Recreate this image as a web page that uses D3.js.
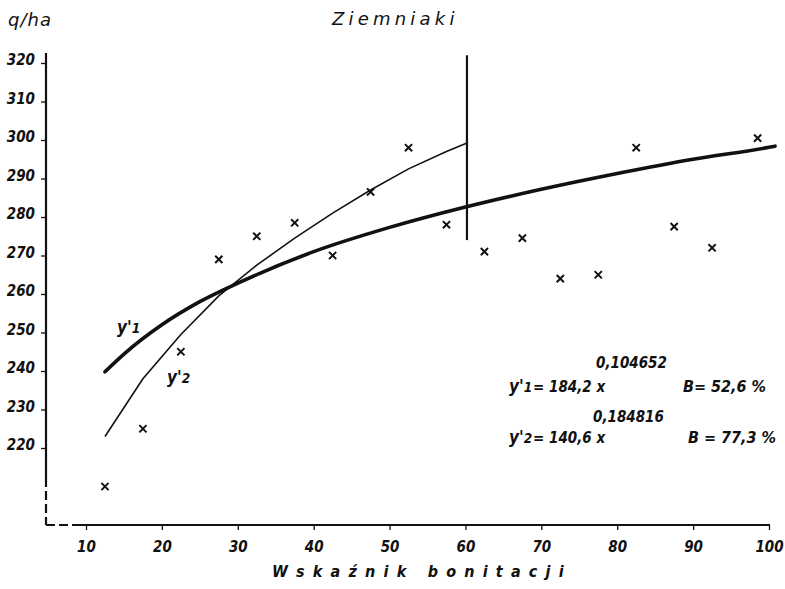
<!DOCTYPE html>
<html>
<head>
<meta charset="utf-8">
<script src="https://cdn.jsdelivr.net/npm/d3@7"></script>
<style>
  html, body { margin: 0; padding: 0; background: #fff; }
  svg { display: block; }
  text { fill: #111; }
</style>
</head>
<body>
<script>
// ---- data ----
const xTicks = [10, 20, 30, 40, 50, 60, 70, 80, 90, 100];
const yTicks = [220, 230, 240, 250, 260, 270, 280, 290, 300, 310, 320];

const pointX = [12.5, 17.5, 22.5, 27.5, 32.5, 37.5, 42.5, 47.5, 52.5, 57.5, 62.5, 67.5, 72.5, 77.5, 82.5, 87.5, 92.5, 98.5];
const pointY = [210, 225, 245, 269, 275, 278.5, 270, 286.5, 298, 278, 271, 274.5, 264, 265, 298, 277.5, 272, 300.5];

// y'1 = 184,2 x^0,104652 (thick curve)
const curve1X = [12.5, 15, 20, 25, 30, 40, 50, 60, 70, 80, 90, 100, 100.8];
const curve1Y = [239.8, 244.4, 252, 258, 262.8, 271, 277.3, 282.6, 287.2, 291.3, 295, 298.1, 298.4];

// y'2 = 140,6 x^0,184816 (thin broken line)
const curve2X = [12.5, 17.5, 22.5, 27.5, 32.5, 37.5, 42.5, 47.5, 52.5, 57.5, 60.2];
const curve2Y = [223, 238, 249.5, 259.5, 267.5, 274.5, 281, 287, 292.5, 297, 299.2];

// vertical divider at x = 60
const dividerX = 60.2;
const dividerY = [274, 322];

const W = 785, H = 589;
const svg = d3.select("body").append("svg").attr("width", W).attr("height", H);

const x = d3.scaleLinear().domain([10, 100]).range([86, 769]);
const y = d3.scaleLinear().domain([200, 320]).range([525, 63]);

const tickFont = "'DejaVu Sans Condensed', 'DejaVu Sans', sans-serif";

// ---- axes ----
const axisX0 = 46; // pixel position of the y-axis line
svg.append("line").attr("x1", axisX0).attr("x2", axisX0).attr("y1", 53).attr("y2", 478)
  .attr("stroke", "#111").attr("stroke-width", 2.2);
svg.append("line").attr("x1", axisX0).attr("x2", axisX0).attr("y1", 478).attr("y2", y(200))
  .attr("stroke", "#111").attr("stroke-width", 2.2).attr("stroke-dasharray", "9,4");
svg.append("line").attr("x1", axisX0).attr("x2", 77).attr("y1", y(200)).attr("y2", y(200))
  .attr("stroke", "#111").attr("stroke-width", 2.2).attr("stroke-dasharray", "9,4");
svg.append("line").attr("x1", 77).attr("x2", x(100) + 1).attr("y1", y(200)).attr("y2", y(200))
  .attr("stroke", "#111").attr("stroke-width", 2.2);

const yAxis = d3.axisLeft(y).tickValues(yTicks).tickSize(5).tickPadding(6).tickFormat(d3.format("d"));
const gy = svg.append("g").attr("transform", `translate(${axisX0},0)`).call(yAxis);
gy.select(".domain").remove();
gy.selectAll(".tick line").attr("stroke", "#111").attr("stroke-width", 1.3);
gy.selectAll(".tick text")
  .attr("font-family", tickFont).attr("font-size", 15).attr("font-weight", "bold")
  .attr("font-style", "italic").attr("fill", "#111").attr("dy", "0.1em");

const xAxis = d3.axisBottom(x).tickValues(xTicks).tickSize(5).tickPadding(11).tickFormat(d3.format("d"));
const gx = svg.append("g").attr("transform", `translate(0,${y(200)})`).call(xAxis);
gx.select(".domain").remove();
gx.selectAll(".tick line").attr("stroke", "#111").attr("stroke-width", 1.3);
gx.selectAll(".tick text")
  .attr("font-family", tickFont).attr("font-size", 15).attr("font-weight", "bold")
  .attr("font-style", "italic").attr("fill", "#111");

// ---- titles ----
svg.append("text").attr("x", 8).attr("y", 26).text("q/ha")
  .attr("font-family", "'DejaVu Sans', sans-serif").attr("font-size", 18)
  .attr("font-style", "italic").attr("letter-spacing", 1);
svg.append("text").attr("x", 332).attr("y", 25).text("Ziemniaki")
  .attr("font-family", "'DejaVu Sans', sans-serif").attr("font-size", 18)
  .attr("font-style", "italic").attr("letter-spacing", 4.2);
svg.append("text").attr("x", 272).attr("y", 577).text("Wskaźnik  bonitacji")
  .attr("font-family", tickFont).attr("font-size", 16).attr("font-weight", "bold")
  .attr("font-style", "italic").attr("letter-spacing", 8.2);

// ---- curves ----
svg.append("path").datum(curve1X.map((v, i) => [v, curve1Y[i]]))
  .attr("d", d3.line().x(d => x(d[0])).y(d => y(d[1])).curve(d3.curveMonotoneX))
  .attr("fill", "none")
  .attr("stroke", "#111").attr("stroke-width", 3.6).attr("stroke-linecap", "round");
svg.append("path").datum(curve2X.map((v, i) => [v, curve2Y[i]]))
  .attr("d", d3.line().x(d => x(d[0])).y(d => y(d[1]))).attr("fill", "none")
  .attr("stroke", "#111").attr("stroke-width", 1.6);
svg.append("line").attr("x1", x(dividerX)).attr("x2", x(dividerX))
  .attr("y1", y(dividerY[1])).attr("y2", y(dividerY[0]))
  .attr("stroke", "#111").attr("stroke-width", 2.2);

// ---- points (x marks) ----
const mk = svg.append("g");
pointX.forEach((px, i) => {
  const cx = x(px), cy = y(pointY[i]), r = 3.6;
  mk.append("path")
    .attr("d", `M${cx - r},${cy - r}L${cx + r},${cy + r}M${cx - r},${cy + r}L${cx + r},${cy - r}`)
    .attr("stroke", "#111").attr("stroke-width", 2);
});

// ---- curve labels ----
function lab(txt, sub, xx, yy, size) {
  const t = svg.append("text").attr("x", xx).attr("y", yy)
    .attr("font-family", tickFont).attr("font-size", size)
    .attr("font-style", "italic").attr("font-weight", "bold");
  t.append("tspan").text(txt);
  t.append("tspan").text(sub).attr("font-size", size * 0.8);
  return t;
}
lab("y'", "1", 117, 333, 17);
lab("y'", "2", 167, 383, 17);

// ---- equations ----
function eqText(str, xx, yy, size) {
  return svg.append("text").attr("x", xx).attr("y", yy).text(str)
    .attr("font-family", tickFont).attr("font-size", size)
    .attr("font-style", "italic").attr("font-weight", "bold");
}
lab("y'", "1", 509, 392, 17);
eqText("= 184,2 x", 533, 392, 15);
eqText("0,104652", 596, 368, 15);
eqText("B= 52,6 %", 683, 392, 16);
lab("y'", "2", 509, 443, 17);
eqText("= 140,6 x", 533, 443, 15);
eqText("0,184816", 593, 422, 15);
eqText("B = 77,3 %", 688, 443, 16);
</script>
</body>
</html>
